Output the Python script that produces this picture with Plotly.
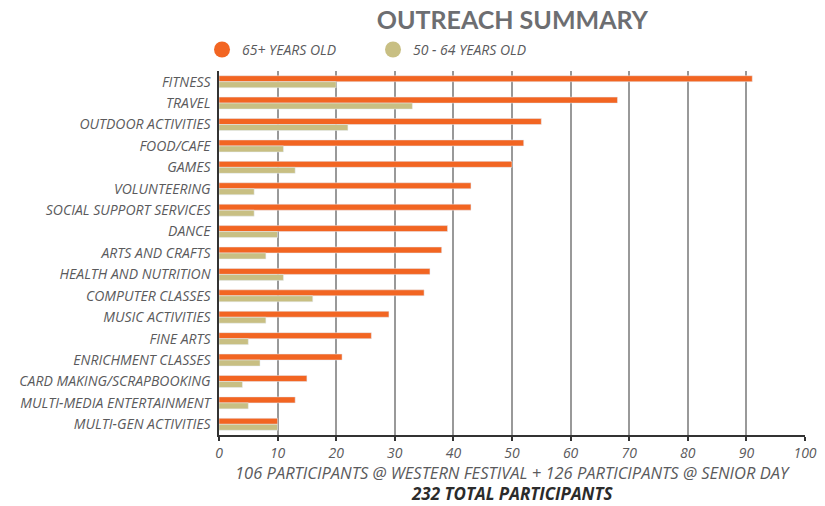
import plotly.graph_objects as go

categories = ["FITNESS", "TRAVEL", "OUTDOOR ACTIVITIES", "FOOD/CAFE", "GAMES",
              "VOLUNTEERING", "SOCIAL SUPPORT SERVICES", "DANCE", "ARTS AND CRAFTS",
              "HEALTH AND NUTRITION", "COMPUTER CLASSES", "MUSIC ACTIVITIES", "FINE ARTS",
              "ENRICHMENT CLASSES", "CARD MAKING/SCRAPBOOKING", "MULTI-MEDIA ENTERTAINMENT",
              "MULTI-GEN ACTIVITIES"]
age_65_plus = [91, 68, 55, 52, 50, 43, 43, 39, 38, 36, 35, 29, 26, 21, 15, 13, 10]
age_50_64 = [20, 33, 22, 11, 13, 6, 6, 10, 8, 11, 16, 8, 5, 7, 4, 5, 10]
x_ticks = [0, 10, 20, 30, 40, 50, 60, 70, 80, 90, 100]

ORANGE = "#F26522"
TAN = "#C8BF83"
FONT = "Open Sans"
GRAY_TXT = "#5a5a5c"

fig = go.Figure()
fig.add_trace(go.Bar(y=categories, x=age_65_plus, orientation="h", marker_color=ORANGE,
                     name="65+ YEARS OLD", showlegend=False))
fig.add_trace(go.Bar(y=categories, x=age_50_64, orientation="h", marker_color=TAN,
                     name="50 - 64 YEARS OLD", showlegend=False))
# legend entries with circle markers
fig.add_trace(go.Scatter(x=[None], y=[None], mode="markers", name="65+ YEARS OLD",
                         marker=dict(color=ORANGE, size=17, symbol="circle")))
fig.add_trace(go.Scatter(x=[None], y=[None], mode="markers", name="50 - 64 YEARS OLD",
                         marker=dict(color=TAN, size=17, symbol="circle")))

fig.update_layout(
    width=825, height=506,
    margin=dict(l=219, r=20, t=71, b=71, autoexpand=False),
    paper_bgcolor="white", plot_bgcolor="white",
    barmode="group", bargap=0.44, bargroupgap=0,
    title=dict(text="<b>OUTREACH SUMMARY</b>", x=0.621, xanchor="center", y=0.977, yanchor="top",
               font=dict(family="Lato", size=25, color="#6d6e71")),
    legend=dict(orientation="h", x=-0.029, xanchor="left", y=1.014, yanchor="bottom",
                font=dict(family=FONT, size=14, color=GRAY_TXT, style="italic"),
                entrywidth=126, entrywidthmode="pixels", itemsizing="trace",
                bgcolor="rgba(0,0,0,0)"),
    xaxis=dict(range=[0, 100], tickvals=x_ticks, showgrid=True, gridcolor="#999999", gridwidth=1.5,
               showline=True, linecolor="#333333", linewidth=2, zeroline=False,
               ticks="outside", ticklen=4, tickcolor="#333333", tickwidth=1.5,
               tickfont=dict(family=FONT, size=14, color=GRAY_TXT, style="italic"),
               fixedrange=True, automargin=False),
    yaxis=dict(autorange="reversed", showline=True, linecolor="#333333", linewidth=2,
               ticks="", showgrid=False, automargin=False,
               tickfont=dict(family=FONT, size=14, color=GRAY_TXT, style="italic"),
               ticksuffix=" "),
    annotations=[
        dict(text="106 PARTICIPANTS @ WESTERN FESTIVAL + 126 PARTICIPANTS @ SENIOR DAY",
             xref="paper", yref="paper", x=0.5, y=-0.104, xanchor="center", yanchor="middle",
             showarrow=False, font=dict(family=FONT, size=16.5, color=GRAY_TXT, style="italic")),
        dict(text="<b>232 TOTAL PARTICIPANTS</b>",
             xref="paper", yref="paper", x=0.5, y=-0.162, xanchor="center", yanchor="middle",
             showarrow=False, font=dict(family=FONT, size=17, color="#2b2b2b", style="italic")),
    ],
)

# remove the browser's default 8px body margin so the figure fills the window
fig.write_html("out.html", config={"displayModeBar": False},
               post_script="document.body.style.margin='0px';")
